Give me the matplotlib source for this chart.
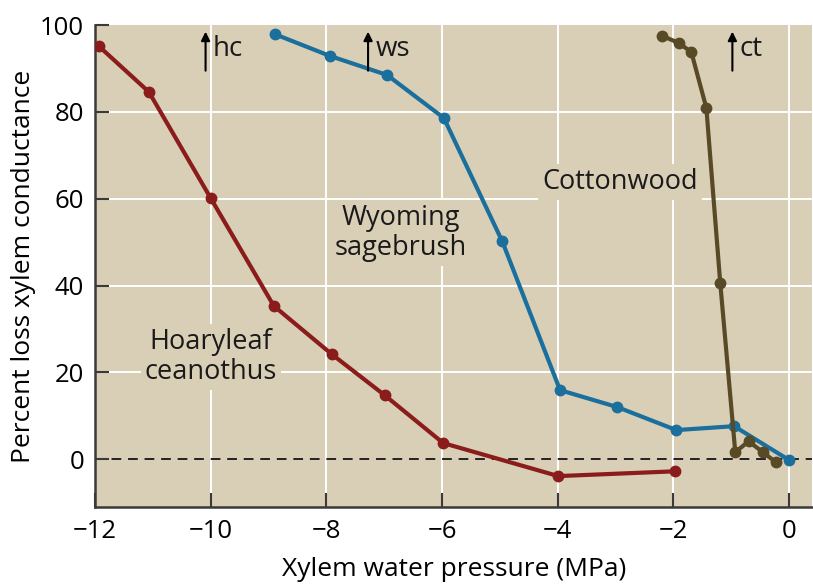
import matplotlib.pyplot as plt

plt.rcParams['font.family'] = ['Open Sans', 'DejaVu Sans']

# Data
hc_x = [-11.94, -11.07, -10.0, -8.91, -7.91, -6.99, -5.98, -3.99, -1.98]
hc_y = [95.2, 84.6, 60.1, 35.3, 24.2, 14.7, 3.7, -3.9, -2.8]

ws_x = [-8.89, -7.94, -6.95, -5.97, -4.96, -3.96, -2.97, -1.95, -0.95, 0.0]
ws_y = [97.9, 92.9, 88.5, 78.6, 50.2, 15.9, 12.0, 6.7, 7.6, -0.2]

ct_x = [-2.19, -1.91, -1.69, -1.43, -1.19, -0.93, -0.70, -0.45, -0.23]
ct_y = [97.5, 95.9, 93.8, 80.9, 40.6, 1.6, 4.1, 1.6, -0.7]

labels = ['Hoaryleaf\nceanothus', 'Wyoming\nsagebrush', 'Cottonwood']
label_pos = [(-10.0, 23.5), (-6.71, 52.1), (-2.92, 63.8)]

arrows = ['hc', 'ws', 'ct']
arrow_x = [-10.09, -7.28, -0.98]

bg = '#d9cfb7'
red = '#8a1c1c'
blue = '#1b6f9c'
olive = '#584a26'

fig = plt.figure(figsize=(8.13, 5.84), dpi=100)
ax = fig.add_axes([0.117, 0.132, 0.882, 0.825])
ax.set_facecolor(bg)

ax.set_xlim(-12, 0.4)
ax.set_ylim(-11, 100)

ax.set_xticks([-12, -10, -8, -6, -4, -2, 0])
ax.set_xticklabels(['\u221212', '\u221210', '\u22128', '\u22126', '\u22124', '\u22122', '0'])
ax.set_yticks([0, 20, 40, 60, 80, 100])

for x in [-10, -8, -6, -4, -2, 0]:
    ax.axvline(x, color='white', lw=1.4, zorder=0)
for y in [20, 40, 60, 80]:
    ax.axhline(y, color='white', lw=1.4, zorder=0)

ax.axhline(0, color='#222222', lw=1.4, ls=(0, (5, 3.5)), zorder=1)

ax.plot(hc_x, hc_y, color=red, lw=3, marker='o', ms=7.5, zorder=3)
ax.plot(ws_x, ws_y, color=blue, lw=3, marker='o', ms=7.5, zorder=3)
ax.plot(ct_x, ct_y, color=olive, lw=3, marker='o', ms=7.5, zorder=4)

for txt, (x, y) in zip(labels, label_pos):
    ax.text(x, y, txt, fontsize=19.5, ha='center', va='center', linespacing=1.1,
            color='#1a1a1a', zorder=2,
            bbox=dict(facecolor=bg, edgecolor='none', pad=3))

for txt, x in zip(arrows, arrow_x):
    ax.annotate('', xy=(x, 98.5), xytext=(x, 89.5),
                arrowprops=dict(arrowstyle='-|>', color='black', lw=1.5,
                                mutation_scale=13, shrinkA=0, shrinkB=0))
    ax.text(x + 0.13, 94.5, txt, fontsize=20, ha='left', va='center', color='#1a1a1a')

for s in ['top', 'right']:
    ax.spines[s].set_visible(False)
for s in ['left', 'bottom']:
    ax.spines[s].set_color('#3a3a3a')
    ax.spines[s].set_linewidth(1.8)

ax.tick_params(direction='in', length=10, width=1.5, color='#3a3a3a',
               labelsize=18.5, pad=8)
ax.tick_params(axis='x', pad=9)

ax.set_xlabel('Xylem water pressure (MPa)', fontsize=19, labelpad=9)
ax.set_ylabel('Percent loss xylem conductance', fontsize=19, labelpad=3)

plt.savefig('out.png', dpi=100)
